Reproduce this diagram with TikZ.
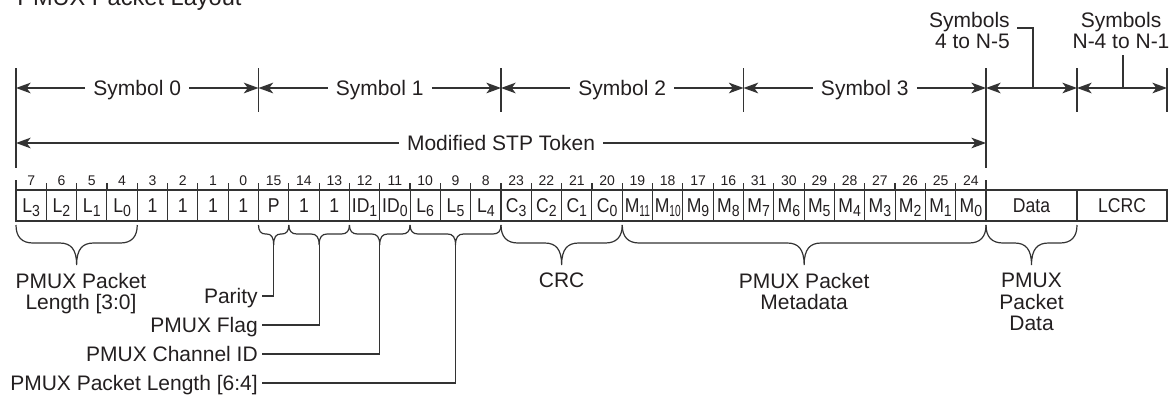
\documentclass[tikz,border=0pt]{standalone}
\usepackage{fontspec}
\usepackage{graphicx}
\setmainfont{Liberation Sans}
\newfontfamily\cellfont[FakeStretch=0.88]{Liberation Sans}
\usetikzlibrary{arrows.meta}
\definecolor{ink}{HTML}{231F20}
\definecolor{ln}{HTML}{333333}
\newcommand\sbs[1]{\raisebox{-3pt}{\fontsize{12}{12}\selectfont #1}}
\newcommand\sbsn[1]{\raisebox{-3pt}{\fontsize{12}{12}\selectfont\scalebox{0.72}[1]{#1}}}
% brace: x0, x1, amplitude, corner radius, tip name
\newcommand\mybrace[5]{%
  \draw[brc] (#1,225) .. controls (#1,{225+0.3*#3}) and ({#1+0.35*#4},{225+0.45*#3}) .. ({#1+#4},{225+0.45*#3})
    -- ({(#1+#2)/2-#4},{225+0.45*#3}) .. controls ({(#1+#2)/2-0.35*#4},{225+0.45*#3}) and ({(#1+#2)/2},{225+0.6*#3}) .. ({(#1+#2)/2},{225+#3})
    coordinate (#5)
    .. controls ({(#1+#2)/2},{225+0.6*#3}) and ({(#1+#2)/2+0.35*#4},{225+0.45*#3}) .. ({(#1+#2)/2+#4},{225+0.45*#3})
    -- ({#2-#4},{225+0.45*#3}) .. controls ({#2-0.35*#4},{225+0.45*#3}) and (#2,{225+0.3*#3}) .. (#2,225);}
\begin{document}
\begin{tikzpicture}[x=0.75pt,y=-0.75pt,
  >={Stealth[length=11pt,width=8pt,inset=3pt]},
  lbl/.style={text=ink,inner sep=0pt,font=\fontsize{15.75}{16}\selectfont},
  dimlbl/.style={lbl,inner xsep=6pt,text height=11.3pt,text depth=0pt},
  dim/.style={draw=ln,line width=0.9pt,->},
  dimboth/.style={draw=ln,line width=0.9pt,<->},
  ext/.style={draw=ln,line width=0.9pt},
  brc/.style={draw=ln,line width=0.9pt},
  cellbox/.style={draw=ln,line width=0.8pt,minimum width=22.734pt,minimum height=23.25pt,inner sep=0pt,text=ink,font=\cellfont\fontsize{15}{15}\selectfont,text height=10.8pt,text depth=0pt},
  bitn/.style={text=ink,inner sep=0pt,font=\fontsize{10.5}{10.5}\selectfont,anchor=base},
  leadlbl/.style={lbl,anchor=east,inner xsep=3pt,text height=11.3pt,text depth=0pt}]
\useasboundingbox (0,0) rectangle (1176,394);
% title (mostly above the visible area, as in the reference)
\node[lbl,anchor=base west,font=\fontsize{17.7}{18}\selectfont] (ttl) at (17,5.5) {PMUX Packet Layout};
% cells
\foreach \t [count=\i from 0] in {L\sbs{3},L\sbs{2},L\sbs{1},L\sbs{0},1,1,1,1,P,1,1,ID\sbs{1},ID\sbs{0},L\sbs{6},L\sbs{5},L\sbs{4},C\sbs{3},C\sbs{2},C\sbs{1},C\sbs{0},M\sbsn{11},M\sbsn{10},M\sbs{9},M\sbs{8},M\sbs{7},M\sbs{6},M\sbs{5},M\sbs{4},M\sbs{3},M\sbs{2},M\sbs{1},M\sbs{0}}
  \node[cellbox] (c\i) at ({16+(\i+0.5)*30.3125},205.5) {\t};
\node[cellbox,minimum width=68.25pt] (data) at (1031.5,205.5) {Data};
\node[cellbox,minimum width=67.5pt] (lcrc) at (1122,205.5) {LCRC};
% bit numbers
\foreach \n [count=\i from 0] in {7,6,5,4,3,2,1,0,15,14,13,12,11,10,9,8,23,22,21,20,19,18,17,16,31,30,29,28,27,26,25,24}
  \node[bitn] (b\i) at ({16+(\i+0.5)*30.3125},185.5) {\n};
\foreach \i in {1,...,31}
  \draw[ext] ({16+\i*30.3125},183) -- ({16+\i*30.3125},190);
\draw[ext] (16,180) -- (16,190);
\draw[ext] (986,180) -- (986,190);
% extension lines
\draw[ext] (16,68) -- (16,168);
\draw[ext] (986,68) -- (986,168);
\foreach \x in {258.5,501,743.5,1077,1167}
  \draw[ext] (\x,68) -- (\x,112);
% symbol dimension lines
\foreach \k/\xa/\xb in {0/16/258.5,1/258.5/501,2/501/743.5,3/743.5/986}{
  \node[dimlbl] (s\k) at ({(\xa+\xb)/2},88) {Symbol \k};
  \draw[dim] (s\k) -- (\xa,88);
  \draw[dim] (s\k) -- (\xb,88);
}
\node[dimlbl] (stp) at (501,143) {Modified STP Token};
\draw[dim] (stp) -- (16,143);
\draw[dim] (stp) -- (986,143);
\coordinate (d4a) at (986,88);
\coordinate (d4b) at (1077,88);
\coordinate (d5b) at (1167,88);
\draw[dimboth] (d4a) -- (d4b);
\draw[dimboth] (d4b) -- (d5b);
\node[lbl,align=right,anchor=north east] (sy4) at (1010,12) {Symbols\\4 to N-5};
\coordinate (sy4a) at (1033,88);
\coordinate (sy4b) at (1017,28);
\draw[ext] (sy4a) |- (sy4b);
\node[lbl,align=center,anchor=north] (sy5) at (1121,12) {Symbols\\N-4 to N-1};
\coordinate (sy5a) at (1123,88);
\coordinate (sy5b) at (1123,55);
\draw[ext] (sy5a) -- (sy5b);
% braces
\mybrace{16}{137.25}{40}{17}{bL}
\mybrace{258.5}{288.81}{20}{7}{bP}
\mybrace{288.81}{349.44}{20}{8}{bF}
\mybrace{349.44}{410.06}{20}{8}{bI}
\mybrace{410.06}{501}{20}{8}{bM}
\mybrace{501}{622.25}{40}{17}{bC}
\mybrace{622.25}{986}{40}{17}{bD}
\mybrace{986}{1077}{40}{17}{bA}
% brace labels
\node[lbl,align=center,anchor=north] (lenA) at (81,273) {PMUX Packet\\Length [3:0]};
\node[lbl,anchor=north] (crc) at (561.6,273) {CRC};
\node[lbl,align=center,anchor=north] (meta) at (804.1,273) {PMUX Packet\\Metadata};
\node[lbl,align=center,anchor=north] (pdat) at (1031.5,273) {PMUX\\Packet\\Data};
\node[leadlbl] (par) at (262,296) {Parity};
\node[leadlbl] (flg) at (262,325) {PMUX Flag};
\node[leadlbl] (chn) at (262,354) {PMUX Channel ID};
\node[leadlbl] (len) at (262,383) {PMUX Packet Length [6:4]};
\draw[ext] (bP) |- (par);
\draw[ext] (bF) |- (flg);
\draw[ext] (bI) |- (chn);
\draw[ext] (bM) |- (len);
\end{tikzpicture}
\end{document}
